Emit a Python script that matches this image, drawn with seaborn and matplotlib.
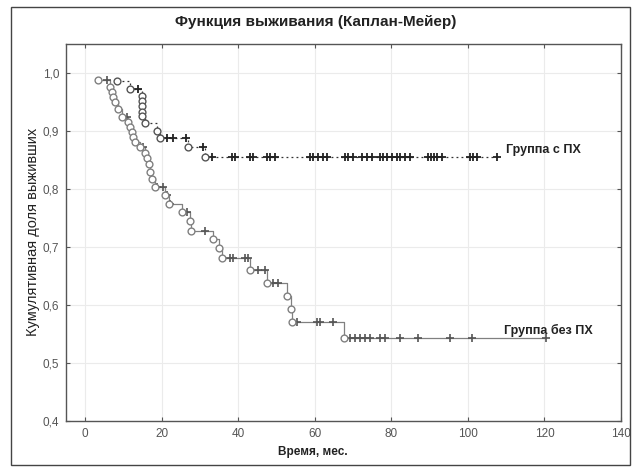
import matplotlib
matplotlib.use("Agg")
import numpy as np
import pandas as pd
import seaborn as sns
import matplotlib.pyplot as plt
from matplotlib.patches import Rectangle
from matplotlib.ticker import FuncFormatter

# Group with PX: event times (months) and survival after each event
with_event_t = [8.3, 11.7, 14.8, 14.8, 14.8, 14.8, 14.8, 15.6, 18.8, 19.6, 26.9, 31.3]
with_event_s = [0.986, 0.973, 0.960, 0.952, 0.943, 0.934, 0.926, 0.915, 0.901, 0.888, 0.872, 0.856]
with_cens_t = [13.8, 21.4, 23.0, 26.4, 30.8, 33.2, 38.4, 39.2, 43.1, 43.9, 47.5, 48.3, 49.6,
               58.7, 59.5, 60.8, 62.1, 63.2, 67.9, 68.7, 70.0, 72.3, 73.6, 74.9, 77.0, 77.8,
               78.9, 80.2, 81.5, 82.2, 83.6, 84.9, 89.6, 90.3, 91.1, 91.9, 93.2, 100.5,
               101.3, 102.3, 107.6]

# Group without PX
without_event_t = [3.4, 6.5, 7.0, 7.4, 7.8, 8.7, 9.6, 11.3, 11.7, 12.2, 12.6, 13.1, 14.4,
                   15.7, 16.2, 16.6, 17.0, 17.4, 18.3, 20.9, 21.9, 25.2, 27.4, 27.7, 33.4,
                   35.1, 35.8, 43.1, 47.5, 52.7, 53.7, 54.0, 67.6]
without_event_s = [0.988, 0.976, 0.968, 0.959, 0.950, 0.939, 0.924, 0.916, 0.907, 0.898,
                   0.890, 0.881, 0.872, 0.863, 0.854, 0.843, 0.830, 0.817, 0.804, 0.789,
                   0.775, 0.760, 0.745, 0.728, 0.714, 0.699, 0.681, 0.661, 0.638, 0.616,
                   0.593, 0.571, 0.543]
without_cens_t = [5.7, 10.9, 15.2, 18.7, 20.4, 21.3, 22.2, 26.5, 31.3, 37.9, 38.6, 41.8,
                  42.6, 45.2, 47.0, 49.1, 50.4, 55.3, 60.5, 61.4, 64.8, 69.2, 70.5, 71.8,
                  73.1, 74.4, 77.0, 78.3, 82.2, 86.9, 95.3, 101.0, 120.5]

x_ticks = [0, 20, 40, 60, 80, 100, 120, 140]
y_ticks = [0.4, 0.5, 0.6, 0.7, 0.8, 0.9, 1.0]


def step_line(ev_t, ev_s, cens_t):
    end = max(max(cens_t), max(ev_t))
    return pd.DataFrame({"t": list(ev_t) + [end], "s": list(ev_s) + [ev_s[-1]]})


def censored_points(ev_t, ev_s, cens_t):
    ev_t = np.asarray(ev_t)
    ev_s = np.asarray(ev_s)
    ys = []
    for c in cens_t:
        idx = np.where(ev_t <= c)[0]
        ys.append(ev_s[idx[-1]] if len(idx) else 1.0)
    return pd.DataFrame({"t": cens_t, "s": ys})


sns.set_theme(style="whitegrid")
plt.rcParams["font.family"] = ["Liberation Sans", "DejaVu Sans"]

fig = plt.figure(figsize=(6.38, 4.70), dpi=100)
ax = fig.add_axes([66 / 638, 1 - 420.6 / 470, (621 - 66) / 638, (420.6 - 44.4) / 470])

# survival step lines
sns.lineplot(data=step_line(with_event_t, with_event_s, with_cens_t), x="t", y="s",
             estimator=None, sort=False, drawstyle="steps-post", ax=ax,
             color="#333333", lw=0.9, linestyle=(0, (1.5, 2.5)))
sns.lineplot(data=step_line(without_event_t, without_event_s, without_cens_t), x="t", y="s",
             estimator=None, sort=False, drawstyle="steps-post", ax=ax,
             color="#808080", lw=0.9)

# censored observations
sns.scatterplot(data=censored_points(with_event_t, with_event_s, with_cens_t), x="t", y="s",
                marker="+", s=30, linewidth=1.3, color="#222222", ax=ax, zorder=4)
sns.scatterplot(data=censored_points(without_event_t, without_event_s, without_cens_t),
                x="t", y="s", marker="+", s=30, linewidth=1.2, color="#555555", ax=ax, zorder=4)

# events
sns.scatterplot(x=with_event_t, y=with_event_s, marker="o", s=24, facecolor="white",
                edgecolor="#555555", linewidth=1.0, ax=ax, zorder=5)
sns.scatterplot(x=without_event_t, y=without_event_s, marker="o", s=24, facecolor="white",
                edgecolor="#808080", linewidth=1.0, ax=ax, zorder=5)

ax.set_xlim(-5, 140)
ax.set_ylim(0.4, 1.05)
ax.set_xticks(x_ticks)
ax.set_yticks(y_ticks)
ax.yaxis.set_major_formatter(FuncFormatter(lambda v, p: f"{v:.1f}".replace(".", ",")))
ax.set_xlabel("")
ax.set_ylabel("")

ax.grid(True, color="#ebebeb", lw=0.8)
ax.tick_params(axis="both", which="both", direction="in", length=3, width=0.8,
               color="#555555", top=True, right=True, bottom=True, left=True,
               labelsize=8.5, labelcolor="#555555", pad=5)
for sp in ax.spines.values():
    sp.set_color("#555555")
    sp.set_linewidth(1.0)

ax.text(110.0, 0.867, "Группа с ПХ", fontsize=9, fontweight="bold", color="#222222",
        ha="left", va="center")
ax.text(109.5, 0.555, "Группа без ПХ", fontsize=9, fontweight="bold", color="#222222",
        ha="left", va="center")

fig.text(0.495, 1 - 22 / 470, "Функция выживания (Каплан-Мейер)", ha="center", va="center",
         fontsize=11, fontweight="bold", color="#222222")
fig.text(0.49, 1 - 452 / 470, "Время, мес.", ha="center", va="center",
         fontsize=8.5, fontweight="bold", color="#222222")
fig.text(33 / 638, 1 - 232 / 470, "Кумулятивная доля выживших", ha="center", va="center",
         rotation=90, fontsize=10.5, color="#222222")

fig.patches.append(Rectangle((11 / 638, 5 / 470), (630 - 11) / 638, (463 - 5) / 470,
                             transform=fig.transFigure, fill=False, ec="#444444", lw=1.0))

fig.savefig("out.png", dpi=100)
